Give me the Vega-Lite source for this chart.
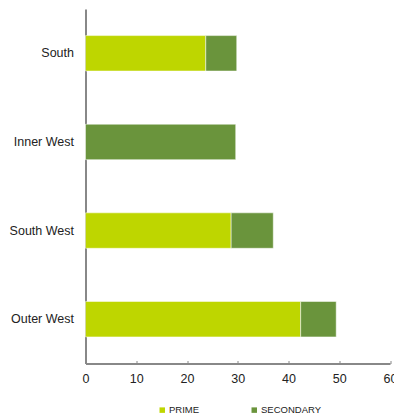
{
  "$schema": "https://vega.github.io/schema/vega-lite/v6.json",
  "width": 304.5,
  "height": 354.5,
  "autosize": {"type": "none"},
  "padding": {"left": 85.5, "top": 9, "right": 4, "bottom": 52.5},
  "background": "white",
  "config": {"view": {"stroke": null}},
  "data": {
    "values": [
      {"region": "South", "type": "PRIME", "value": 23.7},
      {"region": "South", "type": "SECONDARY", "value": 6.1},
      {"region": "Inner West", "type": "PRIME", "value": 0},
      {"region": "Inner West", "type": "SECONDARY", "value": 29.6},
      {"region": "South West", "type": "PRIME", "value": 28.7},
      {"region": "South West", "type": "SECONDARY", "value": 8.3},
      {"region": "Outer West", "type": "PRIME", "value": 42.4},
      {"region": "Outer West", "type": "SECONDARY", "value": 7.0}
    ]
  },
  "mark": {"type": "bar", "stroke": "#ffffff", "strokeOpacity": 0.5, "strokeWidth": 1},
  "encoding": {
    "y": {
      "field": "region",
      "type": "nominal",
      "sort": ["South", "Inner West", "South West", "Outer West"],
      "scale": {"paddingInner": 0.6, "paddingOuter": 0.3},
      "axis": {
        "title": null,
        "ticks": false,
        "domainColor": "#888888",
        "domainWidth": 2,
        "labelPadding": 12,
        "labelFont": "Liberation Sans",
        "labelFontSize": 12.5,
        "labelColor": "#222222"
      }
    },
    "x": {
      "field": "value",
      "type": "quantitative",
      "stack": "zero",
      "scale": {"domain": [0, 60], "nice": false},
      "axis": {
        "title": null,
        "values": [0, 10, 20, 30, 40, 50, 60],
        "grid": false,
        "domainColor": "#888888",
        "domainWidth": 2,
        "tickColor": "#888888",
        "tickSize": -3,
        "labelPadding": 12,
        "labelFont": "Liberation Sans",
        "labelFontSize": 12.5,
        "labelColor": "#222222",
        "labelFlush": false
      }
    },
    "color": {
      "field": "type",
      "type": "nominal",
      "scale": {"domain": ["PRIME", "SECONDARY"], "range": ["#BED600", "#6A943C"]},
      "legend": {
        "title": null,
        "orient": "none",
        "direction": "horizontal",
        "legendX": 72,
        "legendY": 396,
        "symbolType": "square",
        "symbolSize": 30,
        "symbolStrokeWidth": 0,
        "labelFont": "Liberation Sans",
        "labelFontSize": 9.5,
        "labelColor": "#222222",
        "labelOffset": 2,
        "columnPadding": 50
      }
    },
    "order": {"field": "type", "sort": "ascending"}
  }
}
